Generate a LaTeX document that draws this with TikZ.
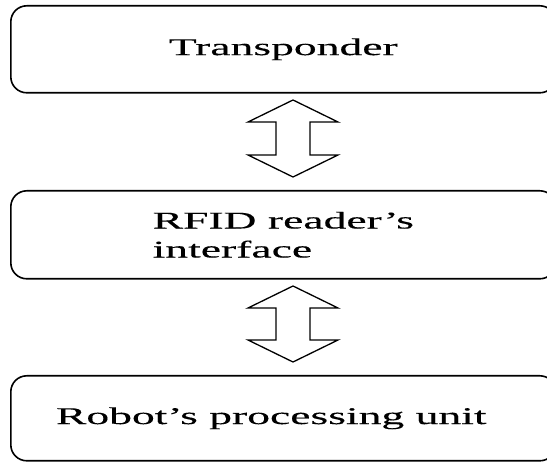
\documentclass[tikz,border=0pt]{standalone}
\usepackage{fontspec}
\newfontfamily\boxfont[FakeStretch=1.9, FakeBold=0.3]{Liberation Serif}
\usetikzlibrary{calc}

\tikzset{
  blockbox/.style={draw, line width=1.6pt, rounded corners=16pt, anchor=north west,
    minimum width=545pt, inner sep=0pt, align=left,
    font=\boxfont\fontsize{24}{29}\selectfont},
  fatarrow/.style={draw, line width=1.3pt, line join=miter},
}
% hollow two-way arrow between two points
\newcommand{\twoway}[2]{%
  \draw[fatarrow] (#1) -- ++(45,22) -- ++(-28,0) -- ($(#2)+(17,-22)$) -- ++(28,0)
    -- (#2) -- ++(-45,-22) -- ++(28,0) -- ($(#1)+(-17,22)$) -- ++(-28,0) -- cycle;}

\begin{document}
\begin{tikzpicture}[x=1pt, y=-1pt]
	\useasboundingbox (0,0) rectangle (547,462);
	\node[blockbox, minimum height=87pt] (trans) at (10,5) {Transponder};
	\node[blockbox, minimum height=88pt] (reader) at (10,190) {RFID reader’s\\interface};
	\node[blockbox, minimum height=85pt] (robot) at (10,375) {Robot’s processing unit\hspace*{24pt}};
	
	\coordinate (a1top) at (293,100);
	\coordinate (a1bot) at (293,177);
	\coordinate (a2top) at (293,286);
	\coordinate (a2bot) at (293,362);
	\twoway{a1top}{a1bot}
	\twoway{a2top}{a2bot}
\end{tikzpicture}
\end{document}
